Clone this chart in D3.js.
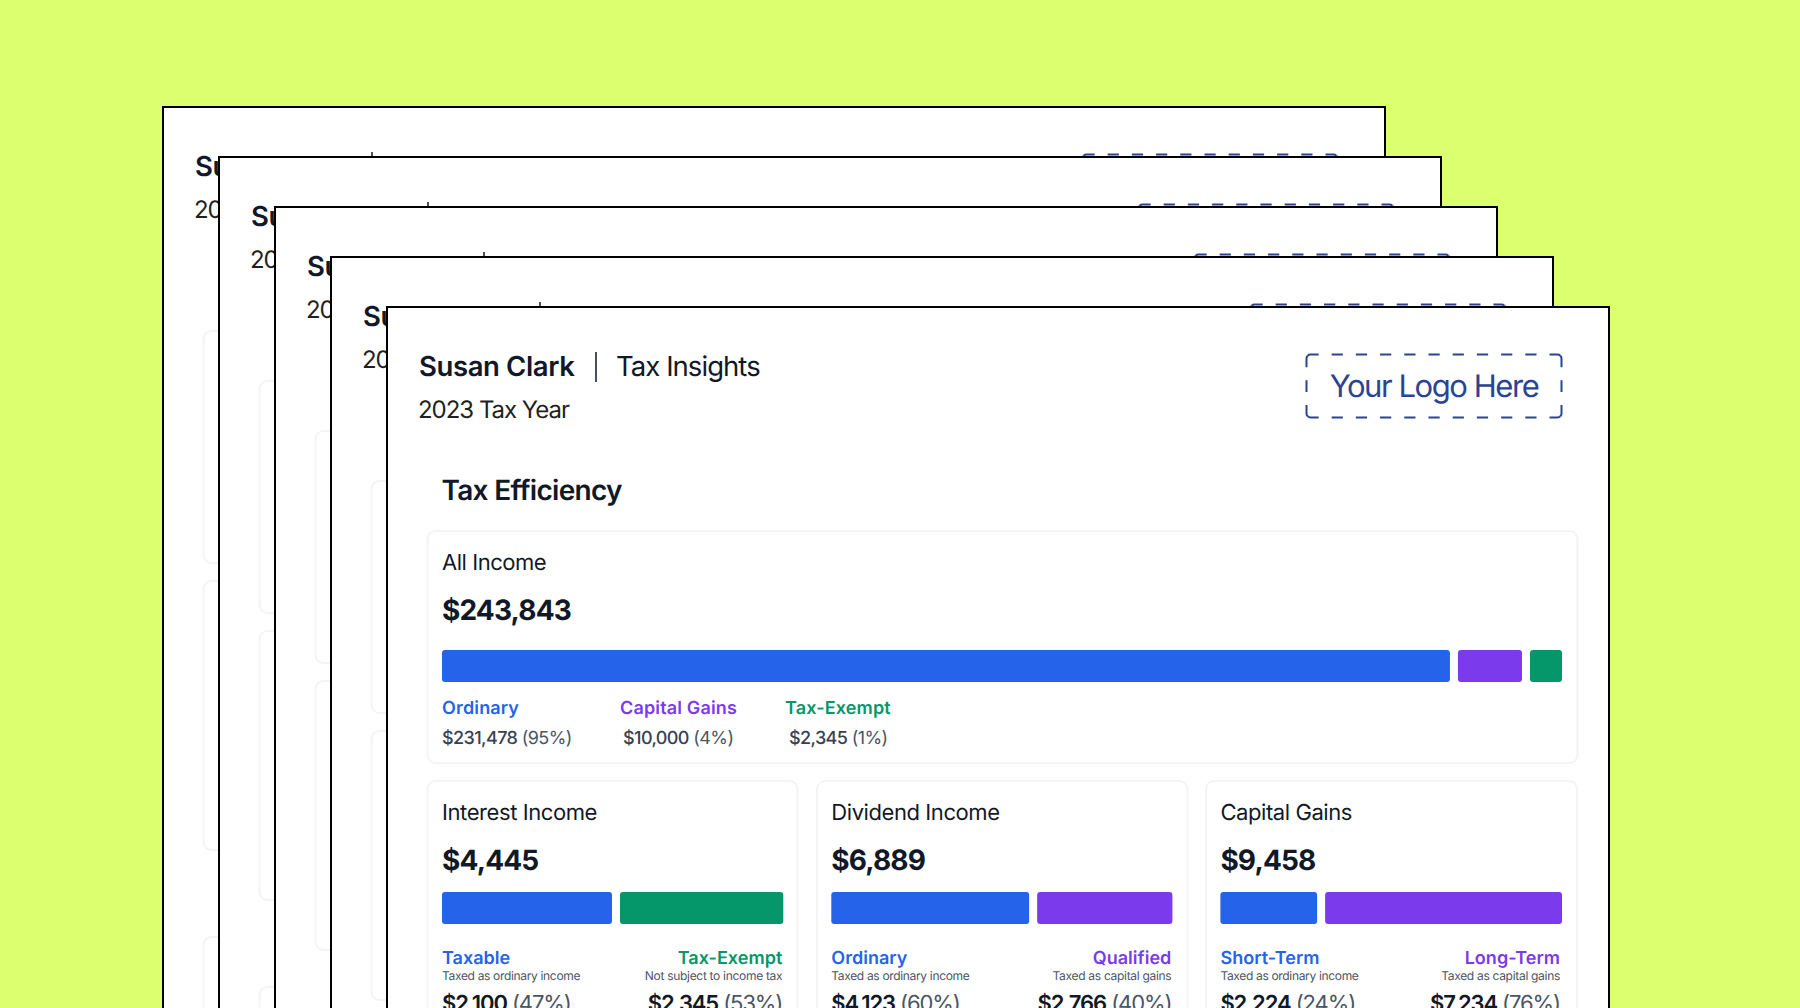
<!DOCTYPE html>
<html><head><meta charset="utf-8">
<script src="https://cdn.jsdelivr.net/npm/d3@7"></script>
<style>
html,body{margin:0;padding:0;background:#dcff70;overflow:hidden}
svg{display:block;font-family:Inter,"Noto Sans",sans-serif;text-rendering:geometricPrecision}
</style></head><body>
<div id="chart"></div>
<script>
const ownerName = "Susan Clark";
const reportName = "Tax Insights";
const taxYear = "2023 Tax Year";
const logoText = "Your Logo Here";
const sectionTitle = "Tax Efficiency";

const allTitle = "All Income";
const allTotal = 243843;
const allLabels = ["Ordinary", "Capital Gains", "Tax-Exempt"];
const allValues = [231478, 10000, 2345];
const allPercents = [95, 4, 1];
const allBarLengths = [91.3, 5.8, 2.9];   // drawn lengths
const allColors = ["blue", "purple", "green"];

const cardTitles = ["Interest Income", "Dividend Income", "Capital Gains"];
const cardTotals = [4445, 6889, 9458];
const leftLabels = ["Taxable", "Ordinary", "Short-Term"];
const rightLabels = ["Tax-Exempt", "Qualified", "Long-Term"];
const leftNotes = ["Taxed as ordinary income", "Taxed as ordinary income", "Taxed as ordinary income"];
const rightNotes = ["Not subject to income tax", "Taxed as capital gains", "Taxed as capital gains"];
const leftValues = [2100, 4123, 2224];
const rightValues = [2345, 2766, 7234];
const leftPercents = [47, 60, 24];
const rightPercents = [53, 40, 76];
const leftBarLengths = [51, 59.4, 29];
const rightBarLengths = [49, 40.6, 71];
const rightColors = ["green", "purple", "purple"];

const palette = {blue:"#2563eb", purple:"#7c3aed", green:"#059669"};
const money = d3.format("$,");
const pageCount = 5;

const W = 1800, H = 1008;
const svg = d3.select("#chart").append("svg").attr("width", W).attr("height", H);
svg.append("rect").attr("width", W).attr("height", H).attr("fill", "#dcff70");

const ink = "#111827";
function txt(g, x, y, s, size, weight, fill, anchor, ls) {
  return g.append("text").attr("x", x).attr("y", y).attr("font-size", size)
    .attr("font-weight", weight).attr("fill", fill).attr("text-anchor", anchor || "start")
    .attr("letter-spacing", ls || 0).text(s);
}
function frame(g, x, y, w, h) {
  g.append("rect").attr("x", x).attr("y", y).attr("width", w).attr("height", h).attr("rx", 8)
    .attr("fill", "#fff").attr("stroke", "#f3f4f6").attr("stroke-width", 2);
}
function segments(g, x0, x1, y, lengths, colors) {
  const gap = 8;
  const scale = d3.scaleLinear().domain([0, d3.sum(lengths)]).range([0, x1 - x0 - gap * (lengths.length - 1)]);
  let x = x0;
  lengths.forEach((v, i) => {
    g.append("rect").attr("x", x).attr("y", y).attr("width", scale(v)).attr("height", 32)
      .attr("rx", 3).attr("fill", palette[colors[i]]);
    x += scale(v) + gap;
  });
}
function amount(g, x, y, value, pct, size, anchor, valueFill, pctFill, weight, ls) {
  const t = g.append("text").attr("x", x).attr("y", y).attr("font-size", size).attr("text-anchor", anchor).attr("letter-spacing", ls);
  t.append("tspan").attr("font-weight", weight).attr("fill", valueFill).text(money(value));
  t.append("tspan").attr("font-weight", 400).attr("fill", pctFill).text(` (${pct}%)`);
}
function logoBox(g, x, y, w, h) {
  const r = 4, k = r * Math.SQRT1_2, c = r - k;
  const stroke = "#2a4494";
  const side = (d, len, n) => {
    const dash = (len - (n - 1) * 13) / n;
    g.append("path").attr("d", d).attr("fill", "none").attr("stroke", stroke).attr("stroke-width", 2)
      .attr("stroke-dasharray", `${dash} 13`);
  };
  const hLen = w - 2 * r + 2 * r * Math.PI / 4, vLen = h - 2 * r + 2 * r * Math.PI / 4;
  side(`M${x+c},${y+c}A${r},${r} 0 0 1 ${x+r},${y}H${x+w-r}A${r},${r} 0 0 1 ${x+w-c},${y+c}`, hLen, 11);
  side(`M${x+c},${y+h-c}A${r},${r} 0 0 0 ${x+r},${y+h}H${x+w-r}A${r},${r} 0 0 0 ${x+w-c},${y+h-c}`, hLen, 11);
  side(`M${x+c},${y+c}A${r},${r} 0 0 0 ${x},${y+r}V${y+h-r}A${r},${r} 0 0 0 ${x+c},${y+h-c}`, vLen, 3);
  side(`M${x+w-c},${y+c}A${r},${r} 0 0 1 ${x+w},${y+r}V${y+h-r}A${r},${r} 0 0 1 ${x+w-c},${y+h-c}`, vLen, 3);
}

function drawPage(i) {
  const g = svg.append("g").attr("transform", `translate(${387 - (pageCount - 1 - i) * 56},${307 - (pageCount - 1 - i) * 50})`);
  const front = i === pageCount - 1;
  g.append("rect").attr("width", 1222).attr("height", 1000).attr("fill", "#fff").attr("stroke", "#000").attr("stroke-width", 2);

  // pages behind the front one only show the first letters of their header
  txt(g, 32, 69, front ? ownerName : ownerName.slice(0, 2), 27.5, 600, ink, "start", -0.38);
  g.append("line").attr("x1", 209).attr("x2", 209).attr("y1", 45).attr("y2", 75).attr("stroke", ink).attr("stroke-width", 1.5);
  txt(g, 31, 111, front ? taxYear : taxYear.slice(0, 2), 24, 400, "#231f20", "start", -1.02);
  logoBox(g, 919.5, 47.5, 255, 63);
  if (front) {
    txt(g, 229, 69, reportName, 27.5, 400, ink, "start", -0.95);
    txt(g, 1047, 90, logoText, 31, 400, "#2a4494", "middle", -1.44);
    txt(g, 54.5, 193, sectionTitle, 28, 600, ink, "start", -0.7);
  }

  frame(g, 40.5, 224, 1150, 232);
  frame(g, 40.5, 474, 370, 269);
  frame(g, 430, 474, 370.5, 269);
  frame(g, 819, 474, 371, 269);
  frame(g, 40.5, 830, 1150, 300);

  if (!front) return;

  txt(g, 55, 263, allTitle, 22, 400, ink, "start", -0.46);
  txt(g, 55, 313, money(allTotal), 28, 700, ink, "start", -0.85);
  segments(g, 55, 1175, 343, allBarLengths, allColors);
  const legendX = [55, 233, 398];
  const amountX = [55, 236, 402];
  allLabels.forEach((l, k) => {
    txt(g, legendX[k], 407, l, 18, 600, palette[allColors[k]], "start", 0.15);
    amount(g, amountX[k], 437, allValues[k], allPercents[k], 18, "start", "#374151", "#4b5563", 500, -0.6);
  });

  const boxes = [[55, 396.3], [444.3, 785.4], [833.4, 1175]];
  const rightInset = [1, 1, 2];
  cardTitles.forEach((title, k) => {
    const [a, b] = boxes[k];
    txt(g, a, 513, title, 22, 400, ink, "start", -0.42);
    txt(g, a, 563, money(cardTotals[k]), 28, 700, ink, "start", -0.85);
    segments(g, a, b, 585, [leftBarLengths[k], rightBarLengths[k]], ["blue", rightColors[k]]);
    const r = b - rightInset[k];
    txt(g, a, 657, leftLabels[k], 18, 600, palette.blue, "start", 0.03);
    txt(g, r, 657, rightLabels[k], 18, 600, palette[rightColors[k]], "end", 0.03);
    txt(g, a, 673, leftNotes[k], 12, 400, "#4b5563", "start", -0.33);
    txt(g, r, 673, rightNotes[k], 12, 400, "#4b5563", "end", -0.3);
    amount(g, a, 704, leftValues[k], leftPercents[k], 22, "start", ink, "#4b5563", 600, -1.1);
    amount(g, r, 704, rightValues[k], rightPercents[k], 22, "end", ink, "#4b5563", 600, -1.1);
  });
}
d3.range(pageCount).forEach(drawPage);
</script></body></html>
